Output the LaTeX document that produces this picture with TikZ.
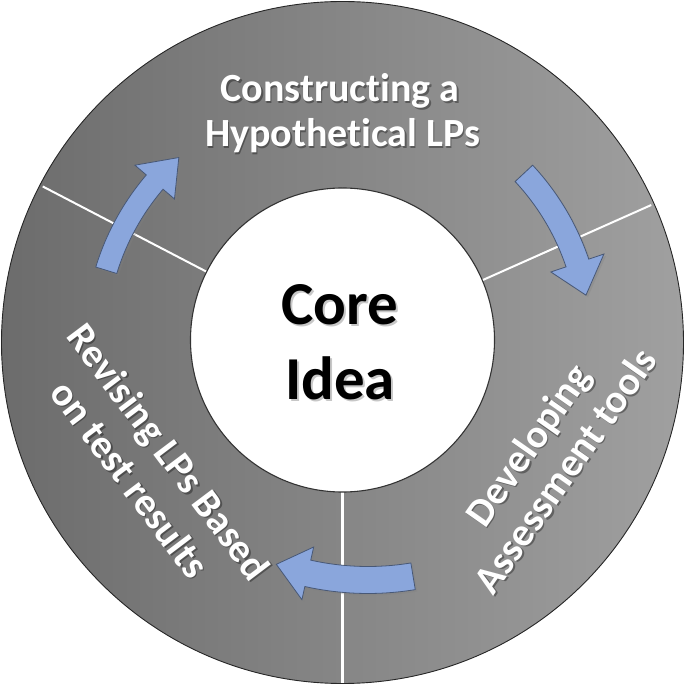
\documentclass[tikz,border=0pt]{standalone}
\usepackage{fontspec}
\setmainfont{Carlito}[Ligatures=CommonOff]
\usetikzlibrary{shadows}
\definecolor{bgL}{RGB}{108,108,108}
\definecolor{bgR}{RGB}{160,160,160}
\definecolor{arrowfill}{RGB}{138,166,220}
\definecolor{arrowdraw}{RGB}{72,88,118}
\tikzset{
  divider/.style={draw=white, line width=2pt},
  lbl/.style={text=white, font=\fontsize{40}{46}\selectfont\bfseries, anchor=base, inner sep=0pt},
  lblsh/.style={lbl, text=black, opacity=0.35},
  corelbl/.style={text=black, font=\fontsize{61}{75}\selectfont\bfseries, anchor=base, inner sep=0pt},
  coresh/.style={corelbl, text=black, opacity=0.22},
  arrowshape/.style={fill=arrowfill, draw=arrowdraw, line width=0.8pt,
    drop shadow={shadow xshift=2pt, shadow yshift=-2pt, opacity=0.3}}
}
\begin{document}
\begin{tikzpicture}[x=1pt,y=1pt]
\useasboundingbox (-342.5,-342.5) rectangle (342.5,342.5);
% outer disc
\shade[left color=bgL, right color=bgR] (0,0) circle[radius=341];
\draw[divider] (0,0) -- (152.5:338);
\draw[divider] (0,0) -- (24:338);
\draw[divider] (0,0) -- (270:341);
\draw[line width=0.9pt, draw=black!85] (0,0) circle[radius=341];
% inner disc
\node[circle, fill=white, draw=black!80, line width=1.1pt, minimum size=304pt, inner sep=0pt] (core) at (0,2.5) {};
% arrows
\draw[arrowshape] (163:258) arc[start angle=163, end angle=139.5, radius=258]
  -- (139.5:273) -- (131.5:247) -- (139.5:221) -- (139.5:236)
  arc[start angle=139.5, end angle=163, radius=236] -- cycle;
\draw[arrowshape] (43:260) arc[start angle=43, end angle=18.7, radius=260]
  -- (18.7:276) -- (11:248) -- (18.7:220) -- (18.7:236)
  arc[start angle=18.7, end angle=43, radius=236] -- cycle;
\begin{scope}[shift={(25.5,38.5)}]
\draw[arrowshape] (279.4:289.5) arc[start angle=279.4, end angle=257.4, radius=289.5]
  -- (257.4:303) -- (250.6:276) -- (257.4:249) -- (257.4:262.5)
  arc[start angle=257.4, end angle=279.4, radius=262.5] -- cycle;
\end{scope}
% core text
\node[coresh] (coreAs) at (-0.5,15.5) {Core};
\node[coresh] (coreBs) at (-0.5,-59.5) {Idea};
\node[corelbl] (coreA) at (-2.5,17.5) {Core};
\node[corelbl] (coreB) at (-2.5,-57.5) {Idea};
% top text
\node[lblsh] (topAs) at (-1,239) {Constructing a};
\node[lblsh] (topBs) at (1.5,194) {Hypothetical LPs};
\node[lbl] (topA) at (-2.5,240.5) {Constructing a};
\node[lbl] (topB) at (0,195.5) {Hypothetical LPs};
% left text
\node[lblsh, rotate=-53] (leftAs) at (-183,-119) {Revising LPs Based};
\node[lblsh, rotate=-53] (leftBs) at (-222,-146) {on test results};
\node[lbl, rotate=-53] (leftA) at (-184.5,-117.5) {Revising LPs Based};
\node[lbl, rotate=-53] (leftB) at (-223.5,-144.5) {on test results};
% right text
\node[lblsh, rotate=55] (rightAs) at (198,-111.5) {Developing};
\node[lblsh, rotate=55] (rightBs) at (235,-137.5) {Assessment tools};
\node[lbl, rotate=55] (rightA) at (196.5,-110) {Developing};
\node[lbl, rotate=55] (rightB) at (233.5,-136) {Assessment tools};
\end{tikzpicture}
\end{document}
